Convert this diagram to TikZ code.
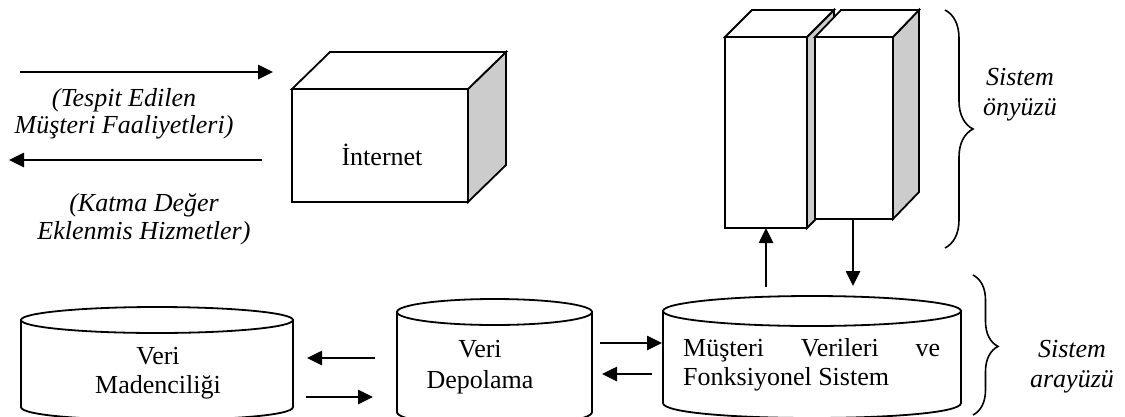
\documentclass[tikz,border=0pt]{standalone}
\usepackage{fontspec}
\setmainfont{Liberation Serif}
\usetikzlibrary{arrows.meta,decorations.pathreplacing}

% drum-shaped store: left x, right x, y of top ellipse centre, y of bottom, ellipse y radius
\newcommand{\drumshape}[5]{%
  \filldraw[outline, fill=white] (#1,#3) -- (#1,#4)
    .. controls (#1,#4+1.333*#5) and (#2,#4+1.333*#5) .. (#2,#4) -- (#2,#3) -- cycle;
  \draw[outline, fill=white] ({(#1+#2)/2},#3) ellipse [x radius={(#2-#1)/2*1pt}, y radius={#5*1pt}];
}

\begin{document}
\begin{tikzpicture}[x=1pt, y=-1pt,
  outline/.style={draw=black, line width=1.8pt, line join=miter},
  sideface/.style={outline, fill=black!20},
  topface/.style={outline, fill=white},
  face/.style={outline, fill=white, inner sep=0pt, outer sep=0pt},
  arr/.style={line width=2.6pt, -{Triangle[length=15pt,width=14pt]}},
  lbl/.style={font=\fontsize{26}{29}\selectfont, align=center, inner sep=0pt},
  ital/.style={font=\fontsize{26}{28}\selectfont\itshape, align=center, inner sep=0pt},
  brc/.style={decorate, decoration={brace, amplitude=28pt, aspect=0.5}, line width=1.6pt},
]
\useasboundingbox (0,0) rectangle (1125,416);
\clip (0,0) rectangle (1125,416);

% ---- Internet block ----
\node[face, minimum width=176pt, minimum height=113pt, anchor=north west] (inet) at (292,89) {};
\filldraw[sideface] (inet.north east) -- ++(38,-37) -- ++(0,113) -- (inet.south east) -- cycle;
\filldraw[topface] (inet.north west) -- ++(38,-37) -- ++(176,0) -- (inet.north east) -- cycle;
\node[lbl, anchor=base] (inettxt) at (382,165) {İnternet};

% ---- front-end towers ----
\node[face, minimum width=82pt, minimum height=191pt, anchor=north west] (lt) at (725,37) {};
\filldraw[sideface] (lt.north east) -- ++(27,-27) -- ++(0,191) -- (lt.south east) -- cycle;
\filldraw[topface] (lt.north west) -- ++(27,-27) -- ++(82,0) -- (lt.north east) -- cycle;
\node[face, minimum width=78pt, minimum height=182pt, anchor=north west] (rt) at (815,37) {};
\filldraw[sideface] (rt.north east) -- ++(26,-27) -- ++(0,182) -- (rt.south east) -- cycle;
\filldraw[topface] (rt.north west) -- ++(26,-27) -- ++(78,0) -- (rt.north east) -- cycle;

% ---- stores ----
\drumshape{21}{293}{320}{407}{13}
\drumshape{397}{592}{312}{412}{13}
\drumshape{663}{961}{311}{403}{15}

% multi-line labels are placed by the baseline of their last line
\node[lbl, anchor=base] (dm) at (158,393) {Veri\\Madenciliği};
\node[lbl, font=\fontsize{26}{31}\selectfont, anchor=base] (vd) at (480,388) {Veri\\Depolama};
\node[lbl, anchor=base west, align=left] (mv) at (683,385)
  {\hbox to 257pt{Müşteri\hfill Verileri\hfill ve}\\Fonksiyonel Sistem};

% ---- flow labels ----
\node[ital, font=\fontsize{26}{27}\selectfont\itshape, anchor=base] (in) at (124,133) {(Tespit Edilen\\Müşteri Faaliyetleri)};
\node[ital, anchor=base] (out) at (144,239) {(Katma Değer\\Eklenmis Hizmetler)};

% ---- arrows ----
\coordinate (inS) at (20,72);   \coordinate (inE) at (273,72);
\coordinate (outS) at (262,160); \coordinate (outE) at (9,160);
\draw[arr] (inS) -- (inE);
\draw[arr] (outS) -- (outE);

\coordinate (dvS) at (375,358); \coordinate (dvE) at (307,358);
\coordinate (vdS) at (306,397); \coordinate (vdE) at (373,397);
\draw[arr] (dvS) -- (dvE);
\draw[arr] (vdS) -- (vdE);

\coordinate (vmS) at (600,343); \coordinate (vmE) at (662,343);
\coordinate (mvS) at (652,374); \coordinate (mvE) at (602,374);
\draw[arr] (vmS) -- (vmE);
\draw[arr] (mvS) -- (mvE);

\coordinate (upFoot) at (766,287);
\coordinate (downFoot) at (853,286);
\draw[arr] (upFoot) -- (upFoot |- lt.south);
\draw[arr] (downFoot |- rt.south) -- (downFoot);

% ---- braces and tier labels ----
\draw[brc] (945,10) -- (945,248);
\draw[brc, decoration={brace, amplitude=25pt, aspect=0.51}] (973,275) -- (973,415);
\node[ital, font=\fontsize{26}{30}\selectfont\itshape, anchor=base] (front) at (1020,115) {Sistem\\önyüzü};
\node[ital, font=\fontsize{26}{30}\selectfont\itshape, anchor=base] (back) at (1072,387) {Sistem\\arayüzü};
\end{tikzpicture}
\end{document}
